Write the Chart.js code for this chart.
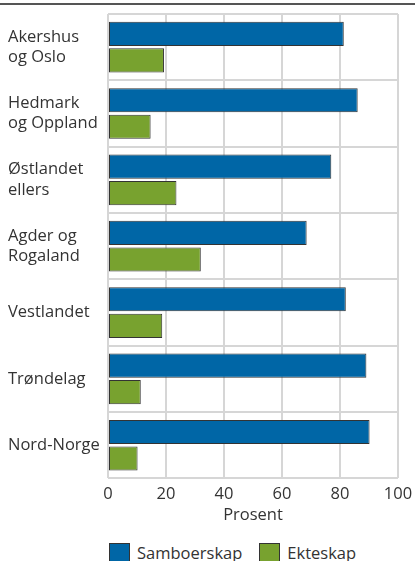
<!DOCTYPE html>
<html>
<head>
<meta charset="utf-8">
<script src="https://cdn.jsdelivr.net/npm/chart.js@4"></script>
<style>
  html, body { margin: 0; padding: 0; background: #fff; }
  body { width: 415px; height: 561px; position: relative; overflow: hidden; font-family: "Open Sans", sans-serif; }
  .topline { position: absolute; left: 0; top: 3px; width: 415px; height: 2px; background: #555; }
  .wrap { position: absolute; left: 0; top: 0; width: 415px; height: 525px; }
  .legend { position: absolute; left: 109px; top: 541px; display: flex; align-items: center; font-size: 16.5px; color: #333; }
  .legend span.box { display: inline-block; width: 21px; height: 20px; border: 1px solid #333; box-sizing: border-box; margin-right: 7px; }
  .legend .item { display: flex; align-items: center; margin-right: 17px; }
</style>
</head>
<body>
<div class="topline"></div>
<div class="wrap"><canvas id="graf"></canvas></div>
<div class="legend" id="legend"></div>
<script>
// Regioner og andeler (prosent)
const regioner = [
  ['Akershus', 'og Oslo'],
  ['Hedmark', 'og Oppland'],
  ['Østlandet', 'ellers'],
  ['Agder og', 'Rogaland'],
  'Vestlandet',
  'Trøndelag',
  'Nord-Norge'
];
const samboerskap = [81.3, 86.1, 77.0, 68.5, 82.0, 89.1, 90.2];
const ekteskap = [19.3, 14.7, 23.6, 32.0, 18.7, 11.3, 10.2];
const xTicks = [0, 20, 40, 60, 80, 100];

const farger = { samboerskap: '#0066a6', ekteskap: '#78a22f' };

document.addEventListener('DOMContentLoaded', function() {
  const ctx = document.getElementById('graf').getContext('2d');
  const chart = new Chart(ctx, {
    type: 'bar',
    data: {
      labels: regioner,
      datasets: [{
        label: 'Samboerskap',
        data: samboerskap,
        backgroundColor: farger.samboerskap,
        borderColor: '#333',
        borderWidth: 1,
        borderSkipped: false,
        categoryPercentage: 0.8,
        barPercentage: 0.91
      }, {
        label: 'Ekteskap',
        data: ekteskap,
        backgroundColor: farger.ekteskap,
        borderColor: '#333',
        borderWidth: 1,
        borderSkipped: false,
        categoryPercentage: 0.8,
        barPercentage: 0.91
      }]
    },
    options: {
      indexAxis: 'y',
      responsive: true,
      maintainAspectRatio: false,
      animation: false,
      layout: { padding: { left: 8, top: 14, right: 17, bottom: 0 } },
      plugins: {
        legend: { display: false },
        tooltip: { enabled: false }
      },
      scales: {
        x: {
          min: 0,
          max: 100,
          afterBuildTicks: function(scale) {
            scale.ticks = xTicks.map(v => ({ value: v }));
          },
          afterFit: function(scale) { scale.paddingRight = 0; },
          grid: { color: '#d6d6d6', lineWidth: 2, drawTicks: false },
          border: { display: false },
          ticks: {
            padding: 6,
            color: '#333',
            font: { family: 'Open Sans', size: 16.5 }
          },
          title: {
            display: true,
            text: 'Prosent',
            color: '#333',
            padding: { top: -5, bottom: 0 },
            font: { family: 'Open Sans', size: 16.5 }
          }
        },
        y: {
          grid: { color: '#d6d6d6', lineWidth: 2, drawTicks: false, offset: true },
          border: { display: false },
          afterFit: function(scale) { scale.width = 100; },
          ticks: {
            crossAlign: 'far',
            color: '#333',
            font: { family: 'Open Sans', size: 16.5, lineHeight: 1.22 }
          }
        }
      }
    }
  });

  // Egen forklaring under figuren
  const legend = document.getElementById('legend');
  chart.data.datasets.forEach(ds => {
    const item = document.createElement('div');
    item.className = 'item';
    const box = document.createElement('span');
    box.className = 'box';
    box.style.background = ds.backgroundColor;
    item.appendChild(box);
    item.appendChild(document.createTextNode(ds.label));
    legend.appendChild(item);
  });
});
</script>
</body>
</html>
